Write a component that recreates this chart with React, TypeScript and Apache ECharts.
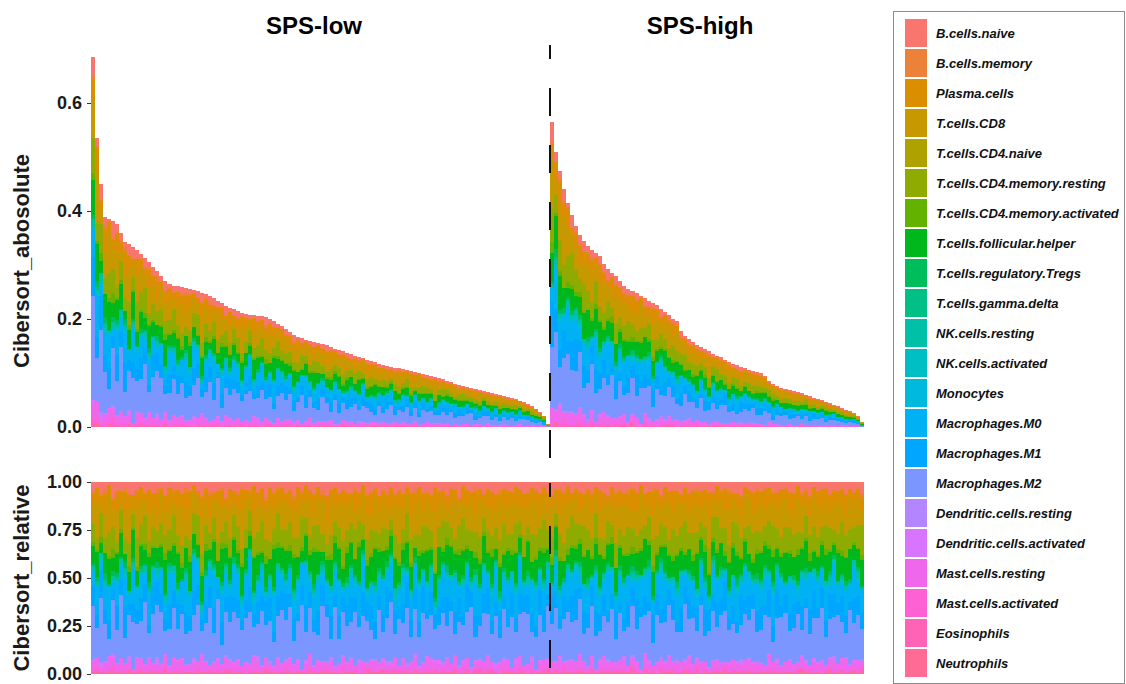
import React, { useEffect, useRef } from "react";
import * as echarts from "echarts";

// ---------------- DATA ----------------
const cellTypes = [
  "B.cells.naive", "B.cells.memory", "Plasma.cells", "T.cells.CD8", "T.cells.CD4.naive",
  "T.cells.CD4.memory.resting", "T.cells.CD4.memory.activated", "T.cells.follicular.helper",
  "T.cells.regulatory.Tregs", "T.cells.gamma.delta", "NK.cells.resting", "NK.cells.activated",
  "Monocytes", "Macrophages.M0", "Macrophages.M1", "Macrophages.M2", "Dendritic.cells.resting",
  "Dendritic.cells.activated", "Mast.cells.resting", "Mast.cells.activated", "Eosinophils", "Neutrophils",
];
const groupLabels = ["SPS-low", "SPS-high"];
const absTicks = [0, 0.2, 0.4, 0.6];
const relTicks = [0, 0.25, 0.5, 0.75, 1];

// total absolute CIBERSORT score per sample (sorted within group)
const lowTotal = [
  0.685, 0.535, 0.45, 0.389, 0.386, 0.381, 0.376, 0.36, 0.343, 0.338,
  0.333, 0.327, 0.32, 0.313, 0.305, 0.297, 0.288, 0.279, 0.271, 0.264,
  0.262, 0.261, 0.26, 0.258, 0.256, 0.253, 0.251, 0.249, 0.246, 0.242,
  0.238, 0.233, 0.229, 0.225, 0.221, 0.218, 0.215, 0.212, 0.21, 0.208,
  0.207, 0.206, 0.205, 0.204, 0.2, 0.196, 0.191, 0.187, 0.181, 0.176,
  0.171, 0.167, 0.164, 0.162, 0.16, 0.158, 0.156, 0.154, 0.151, 0.148,
  0.145, 0.143, 0.14, 0.137, 0.135, 0.132, 0.13, 0.128, 0.125, 0.122,
  0.12, 0.117, 0.115, 0.113, 0.111, 0.11, 0.109, 0.108, 0.106, 0.104,
  0.102, 0.1, 0.098, 0.096, 0.094, 0.092, 0.09, 0.088, 0.086, 0.083,
  0.08, 0.078, 0.076, 0.074, 0.072, 0.07, 0.068, 0.067, 0.065, 0.063,
  0.061, 0.059, 0.057, 0.055, 0.053, 0.051, 0.049, 0.046, 0.043, 0.039,
  0.034, 0.028, 0.02, 0.006,
];
const highTotal = [
  0.565, 0.51, 0.475, 0.44, 0.415, 0.392, 0.372, 0.356, 0.345, 0.335,
  0.328, 0.322, 0.316, 0.302, 0.292, 0.285, 0.279, 0.27, 0.261, 0.256,
  0.252, 0.248, 0.243, 0.238, 0.234, 0.23, 0.226, 0.219, 0.213, 0.207,
  0.2, 0.196, 0.178, 0.168, 0.163, 0.158, 0.152, 0.148, 0.144, 0.14,
  0.136, 0.132, 0.129, 0.125, 0.121, 0.117, 0.114, 0.111, 0.109, 0.106,
  0.104, 0.102, 0.1, 0.094, 0.085, 0.08, 0.076, 0.072, 0.07, 0.068,
  0.066, 0.064, 0.063, 0.06, 0.057, 0.054, 0.052, 0.05, 0.047, 0.044,
  0.041, 0.038, 0.035, 0.032, 0.029, 0.026, 0.02, 0.01,
];

// relative fractions (percent) per sample: 114 SPS-low samples then 78 SPS-high samples
const bNaive = [
  5,3,6,4,2,7,4,5,3,6,8,4, 3,5,4,6,2,4,7,3,5,4,6,3, 4,2,5,7,3,4,6,5,3,8,4,5, 6,3,4,5,2,6,3,7,4,5,3,4,
  5,4,7,3,5,2,4,6,3,5,7,4, 3,6,4,5,8,3,4,2,6,5,3,7, 4,5,3,6,4,7,2,5,4,3,6,5, 7,3,5,4,6,3,5,8,2,4,5,3,
  4,6,3,5,7,4,3,5,6,2,4,6, 5,3,4,6,3,5,7,4,3,5,2,6, 3,5,6,4,5,3,4,6,7,3,5,4, 6,4,3,5,2,6,5,3,4,7,3,5,
  4,5,7,3,6,4,3,5,4,6,5,2, 5,3,4,6,5,7,3,4,5,3,6,4, 3,6,5,4,3,5,6,2,5,4,7,3, 5,4,3,6,4,5,3,6,4,5,3,6,
];
const bMemory = [
  1,0,1,2,0,1,1,0,2,1,0,1, 0,1,1,0,2,1,0,1,1,0,1,2, 1,0,0,1,1,2,1,0,1,1,0,1, 2,1,0,1,0,1,1,2,0,1,1,0,
  1,1,2,0,1,0,1,1,0,2,1,1, 0,1,1,1,0,2,1,0,1,1,2,0, 1,2,0,1,1,0,1,1,2,0,1,1, 1,0,1,2,1,1,0,1,0,1,1,2,
  0,1,1,0,1,2,1,1,0,1,0,1, 2,0,1,1,0,1,1,0,2,1,1,0, 1,1,0,1,2,0,1,1,1,0,1,1, 0,2,1,1,0,1,0,2,1,1,0,1,
  1,0,1,0,1,1,2,0,1,1,1,0, 1,1,2,1,0,1,0,1,1,2,0,1, 0,1,1,0,1,1,1,0,2,1,1,0, 1,0,1,1,2,0,1,1,0,1,1,2,
];
const plasma = [
  5,9,3,11,7,4,10,6,13,8,3,9, 7,4,12,6,8,2,8,11,5,9,6,13, 9,5,4,10,7,12,5,6,9,3,11,6, 8,10,6,4,13,7,9,5,11,7,6,10,
  4,9,7,12,5,8,6,10,7,4,14,6, 10,5,8,6,3,11,7,5,9,12,5,8, 6,8,11,5,9,7,4,13,7,8,10,5, 8,12,5,7,6,10,7,3,9,8,5,11,
  7,5,9,8,11,4,7,10,6,9,12,6, 9,7,6,11,6,8,5,7,12,6,9,4, 5,10,7,6,9,6,11,8,4,10,7,8, 7,6,12,9,5,7,6,11,8,5,9,7,
  11,6,5,8,10,7,6,9,7,12,4,8, 6,9,8,4,7,11,6,5,10,8,6,12, 8,5,10,7,6,9,12,7,5,7,11,6, 7,11,6,9,8,5,7,10,6,9,6,8,
];
const cd8 = [
  10,17,6,13,22,8,15,5,12,19,9,16, 13,7,18,11,5,20,12,16,8,14,23,9, 16,11,8,19,14,6,10,21,13,9,15,7, 11,20,14,7,12,17,8,13,22,10,6,15,
  15,9,13,18,8,11,19,7,14,17,10,21, 8,14,21,12,16,9,6,18,13,8,19,11, 14,10,7,17,20,13,10,8,15,22,9,14, 12,18,15,9,6,14,21,11,7,13,17,10,
  19,8,11,15,10,18,9,16,20,11,7,17, 9,16,19,8,13,10,17,6,12,21,14,8, 13,7,10,18,15,8,14,19,9,12,18,13, 17,11,8,14,21,10,7,13,18,9,15,20,
  10,19,14,9,12,17,13,8,15,19,10,6, 15,9,18,13,7,11,20,14,9,13,17,11, 8,14,10,19,17,9,12,18,14,7,10,16, 18,10,13,8,14,20,9,11,17,10,15,7,
];
const cd4Naive = [
  0,1,0,0,1,0,2,0,1,0,0,1, 1,0,0,1,0,1,0,0,1,1,0,0, 0,0,1,0,1,0,0,2,0,0,1,0, 1,0,0,1,0,0,1,0,0,1,0,1,
  0,1,0,0,2,0,1,0,0,0,1,0, 0,0,1,0,0,1,0,1,0,0,1,0, 1,0,0,0,1,0,0,1,2,0,0,1, 0,1,0,1,0,0,1,0,0,1,0,0,
  0,0,2,0,0,1,0,0,1,0,1,0, 1,0,0,1,0,0,1,0,0,0,1,1, 0,1,0,0,1,0,0,2,0,1,0,0, 0,0,1,0,0,1,0,0,1,0,0,1,
  1,0,0,1,0,0,0,1,0,1,0,0, 0,1,0,0,1,0,1,0,0,0,2,0, 0,0,1,0,0,1,0,0,1,0,0,1, 1,0,0,0,1,0,0,1,0,1,0,0,
];
const cd4MemResting = [
  9,6,12,8,14,10,5,11,7,13,9,15, 11,14,7,10,6,13,9,12,16,8,10,6, 8,12,15,9,11,7,14,10,6,12,9,13, 14,7,10,13,9,12,16,8,11,7,15,10,
  10,13,8,11,15,9,7,12,14,10,6,11, 7,11,14,9,12,16,10,8,11,13,9,7, 13,9,6,12,10,8,15,11,7,10,14,12, 9,12,11,15,8,10,7,13,16,9,11,10,
  12,8,10,7,13,11,14,9,10,15,8,12, 8,14,12,10,16,9,11,7,13,10,12,15, 11,7,15,12,9,14,8,10,12,7,13,9, 10,13,9,8,11,7,12,14,9,11,10,8,
  14,10,12,16,9,13,10,8,11,14,12,15, 9,11,8,13,12,10,7,15,13,9,11,10, 12,14,10,9,15,11,13,9,7,12,10,13, 10,8,13,12,7,9,14,11,12,8,13,16,
];
const cd4MemActivated = [
  2,1,3,0,2,4,1,2,0,3,1,2, 1,3,2,1,0,2,4,1,2,1,3,0, 3,0,1,2,4,1,2,0,3,2,1,2, 2,2,0,3,1,2,1,4,0,2,3,1,
  1,3,2,0,2,1,3,2,1,0,2,4, 4,1,2,3,1,0,2,1,3,2,1,2, 0,2,3,1,2,4,1,2,0,3,2,1, 2,1,0,2,3,1,2,3,1,2,0,3,
  3,2,1,4,0,2,1,2,3,1,2,0, 1,0,2,2,3,1,4,1,2,0,3,2, 2,3,1,0,2,3,1,2,1,4,0,2, 1,2,4,1,2,0,2,3,2,1,2,1,
  3,1,2,2,0,3,1,2,4,1,2,2, 0,2,1,3,2,1,2,0,2,3,1,3, 2,4,1,2,1,2,0,3,1,2,4,1, 1,2,3,1,2,2,3,1,0,2,1,3,
];
const tfh = [
  9,13,5,11,16,6,10,14,4,11,18,8, 11,7,15,9,5,13,17,8,11,15,6,10, 15,9,6,13,11,4,14,9,17,8,12,10, 7,14,11,8,16,12,5,11,9,19,8,13,
  12,8,16,11,6,14,9,17,12,5,10,15, 9,17,8,12,14,9,16,6,11,13,19,8, 14,6,10,16,9,8,13,11,5,14,9,17, 8,12,16,6,10,17,9,14,12,7,15,6,
  11,15,9,14,7,12,6,16,10,17,8,13, 17,8,12,9,15,6,10,13,14,9,5,11, 6,10,14,17,9,12,16,8,10,14,12,9, 12,9,6,10,14,16,8,12,9,6,15,13,
  9,14,11,7,12,9,17,10,15,12,8,10, 14,6,12,16,10,8,14,9,6,10,17,12, 10,15,8,9,17,12,10,14,11,15,6,9, 8,12,14,10,6,16,9,12,17,8,10,14,
];
const tregs = [
  1,2,0,3,1,2,2,1,3,0,2,1, 2,1,3,1,2,0,1,2,1,3,1,2, 0,2,1,2,3,1,2,0,2,1,2,3, 2,1,2,0,1,3,1,2,1,2,0,1,
  3,2,1,2,0,1,2,3,1,2,1,0, 1,0,2,3,2,1,1,2,0,1,3,2, 2,3,1,0,2,2,1,1,3,2,0,1, 1,2,2,1,3,0,2,1,2,1,2,3,
  2,0,1,2,1,3,2,2,0,1,2,1, 3,1,2,1,2,0,1,3,2,2,1,2, 1,2,0,3,1,2,2,1,1,0,2,3, 2,1,3,2,0,1,3,2,1,2,1,0,
  0,3,1,1,2,2,0,1,3,1,2,1, 2,1,2,0,3,1,2,1,2,3,1,2, 1,2,1,2,1,0,3,2,1,2,0,1, 3,1,0,2,2,1,1,3,2,0,2,1,
];
const gammaDelta = [
  0,1,0,1,0,0,1,0,1,0,1,0, 1,0,1,0,0,1,0,1,0,0,1,1, 0,1,0,0,1,0,1,0,0,1,0,1, 1,0,0,1,0,1,0,0,1,0,1,0,
  0,0,1,0,1,0,0,1,0,1,0,0, 1,1,0,0,0,1,1,0,1,0,0,1, 0,0,1,1,0,0,1,0,0,1,1,0, 1,0,0,1,1,0,0,1,0,0,1,0,
  0,1,1,0,0,1,0,0,1,1,0,1, 1,0,0,0,1,0,1,1,0,0,1,0, 0,1,0,1,0,1,0,0,1,0,0,1, 1,0,1,0,0,0,1,0,1,1,0,0,
  0,1,0,1,1,0,0,1,0,0,1,0, 1,0,0,0,1,1,0,0,1,0,1,1, 0,1,1,0,0,1,0,1,0,1,0,0, 1,0,0,1,0,0,1,0,1,0,1,0,
];
const nkResting = [
  2,1,3,2,0,2,1,3,2,1,2,0, 1,3,2,0,2,1,2,2,3,1,0,2, 2,0,2,3,1,2,1,0,2,3,2,1, 3,2,1,2,2,0,3,1,2,1,2,2,
  1,2,3,1,0,2,2,1,3,2,1,3, 2,1,2,2,3,1,0,2,1,2,3,1, 0,2,1,3,2,2,1,2,0,1,2,3, 2,3,2,1,1,2,3,0,2,2,1,2,
  1,2,0,2,3,1,2,2,1,3,2,0, 3,1,2,1,2,3,0,2,2,1,2,1, 2,2,1,3,0,2,1,3,2,2,1,2, 1,0,2,2,1,3,2,1,0,2,3,2,
  2,3,1,0,2,1,2,2,3,1,2,1, 3,1,2,2,1,2,0,3,1,2,2,3, 1,2,3,1,2,0,2,1,2,3,1,2, 2,1,2,3,1,2,1,2,0,2,3,1,
];
const nkActivated = [
  1,0,1,2,0,1,0,1,1,0,2,1, 0,1,0,1,1,0,2,0,1,1,0,1, 1,2,1,0,0,1,1,0,2,1,0,0, 0,1,0,1,2,1,0,1,0,0,1,2,
  1,0,2,1,0,0,1,1,0,2,1,0, 2,1,0,0,1,1,0,2,1,0,0,1, 0,1,1,2,0,1,2,0,0,1,1,0, 1,0,1,0,1,2,0,1,1,0,2,1,
  0,2,0,1,1,0,1,0,2,1,0,1, 1,0,1,2,0,1,0,1,1,0,1,2, 2,1,0,0,1,0,2,1,0,1,1,0, 0,1,1,0,2,1,0,0,1,2,0,1,
  1,0,2,1,0,1,1,0,0,1,2,0, 0,1,0,1,1,0,2,1,0,0,1,1, 1,2,1,0,0,2,0,1,1,0,0,2, 0,0,1,1,2,0,1,0,1,2,1,0,
];
const monocytes = [
  0,1,1,0,2,0,1,0,1,1,0,2, 1,0,2,1,0,1,0,1,0,2,1,0, 2,1,0,1,1,0,2,1,0,0,1,1, 0,2,1,0,1,1,0,0,2,1,0,1,
  1,0,0,2,1,0,1,2,0,1,1,0, 0,1,1,0,0,2,1,0,1,0,2,1, 1,0,2,1,0,1,0,1,1,2,0,0, 2,1,0,0,1,0,1,1,0,1,0,2,
  0,1,1,2,0,1,0,0,1,0,2,1, 1,0,0,1,2,0,1,1,0,1,0,0, 0,2,1,0,1,1,0,1,2,0,1,1, 1,0,1,1,0,2,0,1,0,1,1,0,
  2,1,0,1,1,0,1,0,1,2,0,1, 0,0,1,0,2,1,1,0,1,0,1,2, 1,1,0,2,0,1,0,2,0,1,0,1, 0,1,2,0,1,0,1,1,0,1,2,0,
];
const macroM0 = [
  7,15,4,11,19,3,12,8,16,5,22,9, 13,5,17,9,2,15,8,20,11,4,12,16, 8,18,11,3,13,9,21,6,15,12,4,17, 16,7,12,20,5,11,15,3,9,18,13,8,
  4,13,8,16,11,23,6,12,17,5,9,15, 12,17,3,9,15,6,13,19,4,11,16,8, 19,8,15,5,12,17,3,11,13,20,6,12, 9,3,13,17,8,12,20,5,15,9,2,16,
  15,11,6,12,21,4,9,16,8,13,19,5, 5,16,20,8,11,13,4,15,12,6,17,10, 10,6,12,15,3,19,10,8,20,13,5,15, 17,12,4,10,16,9,15,6,11,19,12,4,
  8,15,19,6,9,13,5,17,12,3,15,10, 13,4,10,16,12,6,19,9,5,15,10,17, 6,18,9,13,5,16,12,4,15,10,20,7, 15,9,16,5,17,10,6,13,9,17,8,12,
];
const macroM1 = [
  10,7,14,8,12,5,13,9,16,6,11,8, 13,9,5,14,8,12,6,16,10,13,5,11, 8,14,11,6,13,10,16,5,12,8,14,9, 11,5,9,16,6,13,8,11,14,5,10,12,
  14,8,12,5,11,16,9,6,13,11,7,14, 6,13,9,11,16,8,5,14,9,13,11,7, 10,16,6,13,5,11,14,8,12,9,16,6, 13,7,11,9,14,6,12,13,5,16,9,11,
  5,11,14,7,9,13,6,11,16,8,13,9, 11,9,6,14,13,5,16,9,7,12,6,14, 16,6,12,8,11,14,9,13,6,9,14,5, 7,13,9,16,6,11,5,14,12,7,13,9,
  11,5,14,9,13,7,11,6,16,13,9,11, 9,14,7,11,5,16,9,13,7,11,14,6, 13,9,16,6,11,9,14,7,12,5,13,16, 6,11,9,13,14,7,13,9,5,14,11,9,
];
const macroM2 = [
  27,15,33,20,11,24,17,36,13,23,30,18, 21,31,14,26,18,34,12,23,29,16,25,15, 17,25,30,12,22,27,18,33,10,23,20,29, 26,18,23,32,14,20,30,15,25,12,21,33,
  20,29,12,22,35,16,26,18,14,30,23,11, 31,14,25,18,23,29,15,27,21,16,12,26, 15,23,33,13,26,20,30,12,25,18,29,21, 25,16,20,28,15,32,13,23,18,26,34,12,
  18,27,21,15,29,12,23,20,32,14,25,30, 29,12,18,25,16,26,21,30,15,23,28,20, 21,30,14,23,28,18,15,25,20,32,12,26, 14,20,26,17,31,21,25,12,28,18,23,29,
  23,15,18,29,20,26,13,32,16,21,28,15, 28,25,16,21,13,18,30,20,26,15,20,32, 18,12,23,26,30,15,21,25,13,29,17,23, 25,29,15,20,23,28,18,13,31,21,26,16,
];
const dcResting = [
  0,0,1,0,0,1,0,0,0,1,0,0, 1,0,0,0,1,0,0,1,0,0,0,1, 0,1,0,0,0,0,1,0,0,1,0,0, 0,0,0,1,0,1,0,0,1,0,0,0,
  1,0,0,0,0,1,0,0,0,0,1,0, 0,0,1,0,1,0,0,0,1,0,0,1, 0,1,0,0,0,0,1,0,0,0,1,0, 1,0,0,1,0,0,0,1,0,0,0,0,
  0,0,0,0,1,0,1,0,0,1,0,0, 0,1,0,0,0,1,0,0,0,0,1,0, 1,0,0,1,0,0,0,0,1,0,0,1, 0,0,1,0,0,0,1,0,0,1,0,0,
  0,1,0,0,1,0,0,0,0,0,1,0, 1,0,0,0,0,1,0,1,0,0,0,0, 0,0,1,0,0,0,0,1,0,1,0,0, 0,1,0,0,1,0,0,0,1,0,0,1,
];
const dcActivated = [
  1,0,2,1,0,1,1,0,1,2,0,1, 0,1,1,0,2,0,1,1,0,1,1,0, 1,2,0,1,1,0,0,2,1,0,1,1, 1,0,1,0,1,2,1,0,0,1,2,0,
  0,1,1,2,0,1,0,1,1,0,0,2, 1,0,0,1,1,0,2,1,0,1,1,0, 2,1,1,0,0,1,1,0,2,1,0,1, 0,1,2,1,1,0,0,1,1,0,1,1,
  1,0,1,0,2,1,1,0,0,2,1,0, 1,2,0,1,0,1,0,1,2,1,0,1, 0,1,1,0,1,0,2,1,1,0,1,0, 2,0,1,1,0,1,1,0,1,0,2,1,
  1,1,0,2,1,0,1,1,0,1,0,1, 0,1,1,0,1,2,0,1,1,0,1,0, 1,0,2,1,0,1,1,0,1,1,0,2, 1,1,0,1,2,0,1,1,0,1,1,0,
];
const mastResting = [
  4,6,2,5,8,3,4,7,3,5,2,6, 5,3,7,4,2,6,5,3,8,4,6,3, 3,5,4,8,5,2,6,4,3,7,5,4, 6,2,5,3,6,7,3,5,4,2,6,5,
  4,7,3,5,2,4,8,3,6,5,3,7, 2,5,6,4,7,3,5,6,2,4,7,3, 5,3,4,7,3,6,2,5,7,3,4,6, 7,4,5,2,6,4,7,3,5,6,3,4,
  3,6,7,4,3,5,4,6,2,5,7,3, 5,4,2,6,5,3,6,4,7,3,5,6, 4,7,5,3,6,2,5,7,4,6,3,5, 6,3,4,5,3,7,4,2,6,5,4,7,
  3,5,6,4,7,5,3,6,4,2,6,4, 5,2,4,6,4,3,7,5,3,6,4,5, 7,4,5,3,5,6,4,3,6,4,2,6, 4,6,3,5,6,4,5,7,3,5,6,3,
];
const mastActivated = [
  1,2,0,1,1,3,0,1,2,0,1,1, 2,0,1,1,0,1,2,1,0,1,2,0, 0,1,2,0,1,1,0,2,1,1,0,2, 1,1,0,2,1,0,1,1,2,0,1,1,
  2,0,1,1,0,2,1,0,1,1,2,0, 1,1,2,0,1,1,0,1,1,2,0,1, 0,2,1,1,2,0,1,1,0,1,1,2, 1,0,1,2,0,1,2,0,1,1,0,1,
  2,1,0,1,1,0,1,2,0,1,2,1, 0,1,1,0,2,1,1,0,1,2,1,0, 1,2,0,1,1,1,0,2,1,0,1,1, 1,0,2,1,0,2,1,1,0,1,1,2,
  2,1,1,0,1,1,2,0,1,1,0,1, 0,1,1,2,0,1,1,1,2,0,1,0, 1,2,0,1,1,0,1,2,1,1,2,1, 1,0,1,1,2,1,0,1,1,0,1,2,
];
const eosinophils = [
  1,0,1,0,1,1,0,1,0,1,0,1, 0,1,1,0,1,0,1,0,1,1,0,0, 1,0,0,1,0,1,1,0,0,1,1,0, 0,1,0,1,1,0,0,1,1,0,0,1,
  1,1,0,0,1,0,1,1,0,0,1,0, 0,0,1,1,0,1,0,0,1,1,0,1, 1,0,1,0,0,1,1,0,1,0,1,0, 0,1,0,1,1,0,1,0,0,1,0,1,
  1,0,1,1,0,0,0,1,1,0,1,0, 0,1,0,0,1,1,0,1,0,1,0,1, 1,0,1,0,1,0,1,0,1,0,1,1, 0,1,1,0,0,1,0,1,0,1,1,0,
  1,0,0,1,1,0,1,0,1,0,0,1, 0,1,0,1,0,1,1,0,0,1,1,0, 1,1,0,0,1,0,0,1,1,0,1,0, 0,0,1,1,0,1,1,0,1,1,0,1,
];
const neutrophils = [
  0,1,0,0,1,0,1,0,0,1,0,0, 1,0,0,1,0,0,1,0,1,0,0,1, 0,0,1,0,1,0,0,1,0,0,1,0, 1,0,0,0,0,1,0,1,0,1,0,0,
  0,1,0,1,0,0,1,0,0,1,0,1, 0,0,1,0,1,0,0,0,1,0,1,0, 1,0,0,1,0,1,0,0,1,0,0,1, 0,1,0,0,0,1,1,0,0,1,0,0,
  1,0,1,0,0,0,1,0,1,0,0,1, 0,0,0,1,0,1,0,1,0,0,1,0, 0,1,0,0,1,0,0,1,0,1,0,0, 1,0,1,0,0,1,0,0,0,1,0,1,
  0,0,0,1,0,0,1,0,1,0,1,0, 1,1,0,0,1,0,0,1,0,0,0,1, 0,0,1,0,0,1,0,0,1,1,0,0, 1,0,0,1,0,0,1,0,0,1,0,1,
];

const fractions = [
  bNaive, bMemory, plasma, cd8, cd4Naive, cd4MemResting, cd4MemActivated, tfh, tregs, gammaDelta,
  nkResting, nkActivated, monocytes, macroM0, macroM1, macroM2, dcResting, dcActivated,
  mastResting, mastActivated, eosinophils, neutrophils,
];

// ---------------- STYLE HELPERS ----------------
// ggplot2 default hue palette (hcl, c = 100, l = 65)
function hcl(h: number, c: number, l: number): string {
  const hr = (h * Math.PI) / 180;
  const U = c * Math.cos(hr);
  const V = c * Math.sin(hr);
  const Y = 100 * (l > 7.999592 ? Math.pow((l + 16) / 116, 3) : l / 903.3);
  const u = U / (13 * l) + 0.1978398;
  const v = V / (13 * l) + 0.4683363;
  const X = (9 * Y * u) / (4 * v);
  const Z = -X / 3 - 5 * Y + (3 * Y) / v;
  const g = (t: number) => {
    const x = t / 100;
    const r = x > 0.00304 ? 1.055 * Math.pow(x, 1 / 2.4) - 0.055 : 12.92 * x;
    return Math.round(255 * Math.min(1, Math.max(0, r)));
  };
  const R = g(3.240479 * X - 1.53715 * Y - 0.498535 * Z);
  const G = g(-0.969256 * X + 1.875992 * Y + 0.041556 * Z);
  const B = g(0.055648 * X - 0.204043 * Y + 1.057311 * Z);
  return "#" + [R, G, B].map((n) => n.toString(16).padStart(2, "0")).join("");
}
const palette = cellTypes.map((_, k) => hcl(15 + (360 * k) / cellTypes.length, 100, 65));

const FONT = "'Liberation Sans', Arial, Helvetica, sans-serif";
const GRID_LEFT = 91;
const GRID_W = 773;

export default function App() {
  const ref = useRef<HTMLDivElement>(null);
  useEffect(() => {
    if (!ref.current) return;
    const chart = echarts.init(ref.current, undefined, { renderer: "svg" });

    const totals = [...lowTotal, ...highTotal];
    const N = totals.length;
    const nLow = lowTotal.length;
    const cats = totals.map((_, i) => (i < nLow ? groupLabels[0] : groupLabels[1]) + "_" + (i + 1));
    const sums = totals.map((_, s) => fractions.reduce((acc, arr) => acc + (arr[s] ?? 0), 0));
    const rel = fractions.map((arr) => totals.map((_, s) => (arr[s] ?? 0) / sums[s]));
    const abs = rel.map((arr) => arr.map((r, s) => r * totals[s]));

    const series: any[] = [];
    for (let t = cellTypes.length - 1; t >= 0; t--) {
      const common = {
        type: "bar",
        name: cellTypes[t],
        itemStyle: { color: palette[t] },
        barCategoryGap: "0%",
        barGap: "0%",
        silent: true,
        emphasis: { disabled: true },
      };
      series.push({ ...common, xAxisIndex: 0, yAxisIndex: 0, stack: "abs", data: abs[t] });
      series.push({ ...common, xAxisIndex: 1, yAxisIndex: 1, stack: "rel", data: rel[t] });
    }

    const sepX = GRID_LEFT + (GRID_W * nLow) / N;
    const axisLabelStyle = { fontSize: 18, fontWeight: "bold", color: "#1a1a1a", fontFamily: FONT, margin: 9 };
    const tickStyle = { show: true, length: 4, lineStyle: { color: "#333", width: 1.2 } };
    const nameStyle = { fontSize: 22, fontWeight: "bold", color: "#1a1a1a", fontFamily: FONT };

    chart.setOption({
      animation: false,
      textStyle: { fontFamily: FONT },
      grid: [
        { left: GRID_LEFT, width: GRID_W, top: 49, height: 423.9 },
        { left: GRID_LEFT, width: GRID_W, top: 482, height: 192 },
      ],
      xAxis: [
        { gridIndex: 0, type: "category", data: cats, show: false },
        { gridIndex: 1, type: "category", data: cats, show: false },
      ],
      yAxis: [
        {
          gridIndex: 0, type: "value", min: -0.085, max: 0.7,
          axisLine: { show: false }, splitLine: { show: false },
          axisTick: { ...tickStyle, customValues: absTicks },
          axisLabel: { ...axisLabelStyle, customValues: absTicks, formatter: (v: number) => v.toFixed(1) },
          name: "Cibersort_abosolute", nameLocation: "middle", nameGap: 59, nameTextStyle: nameStyle,
        },
        {
          gridIndex: 1, type: "value", min: 0, max: 1, interval: 0.25,
          axisLine: { show: false }, splitLine: { show: false },
          axisTick: { ...tickStyle, customValues: relTicks },
          axisLabel: { ...axisLabelStyle, customValues: relTicks, formatter: (v: number) => v.toFixed(2) },
          name: "Cibersort_relative", nameLocation: "middle", nameGap: 59, nameTextStyle: nameStyle,
        },
      ],
      legend: {
        data: cellTypes,
        orient: "vertical",
        left: 905,
        top: 19,
        padding: 0,
        itemWidth: 22,
        itemHeight: 28,
        itemGap: 2,
        icon: "rect",
        selectedMode: false,
        textStyle: { fontSize: 13, fontStyle: "italic", fontWeight: "bold", color: "#111", fontFamily: FONT, padding: [0, 0, 0, 4] },
      },
      graphic: [
        { type: "rect", shape: { x: 893.5, y: 11.5, width: 231, height: 672 }, style: { fill: "none", stroke: "#8c8c8c", lineWidth: 1.2 }, silent: true },
        { type: "text", style: { text: groupLabels[0], x: 314, y: 25, textAlign: "center", textVerticalAlign: "middle", font: `bold 24px ${FONT}`, fill: "#000" } },
        { type: "text", style: { text: groupLabels[1], x: 700, y: 25, textAlign: "center", textVerticalAlign: "middle", font: `bold 24px ${FONT}`, fill: "#000" } },
        { type: "line", shape: { x1: sepX, y1: 45, x2: sepX, y2: 460 }, style: { stroke: "#111", lineWidth: 2.5, lineDash: [28, 29], lineDashOffset: 14 }, silent: true, z: 100 },
        { type: "line", shape: { x1: sepX, y1: 483, x2: sepX, y2: 678 }, style: { stroke: "#111", lineWidth: 2.5, lineDash: [28, 29], lineDashOffset: 14 }, silent: true, z: 100 },
      ],
      series,
    });
    return () => chart.dispose();
  }, []);
  return (
    <>
      <style>{`#cibersort-chart svg path { shape-rendering: crispEdges; }`}</style>
      <div id="cibersort-chart" ref={ref} style={{ position: "fixed", left: 0, top: 0, width: 1126, height: 684, background: "#fff" }} />
    </>
  );
}
